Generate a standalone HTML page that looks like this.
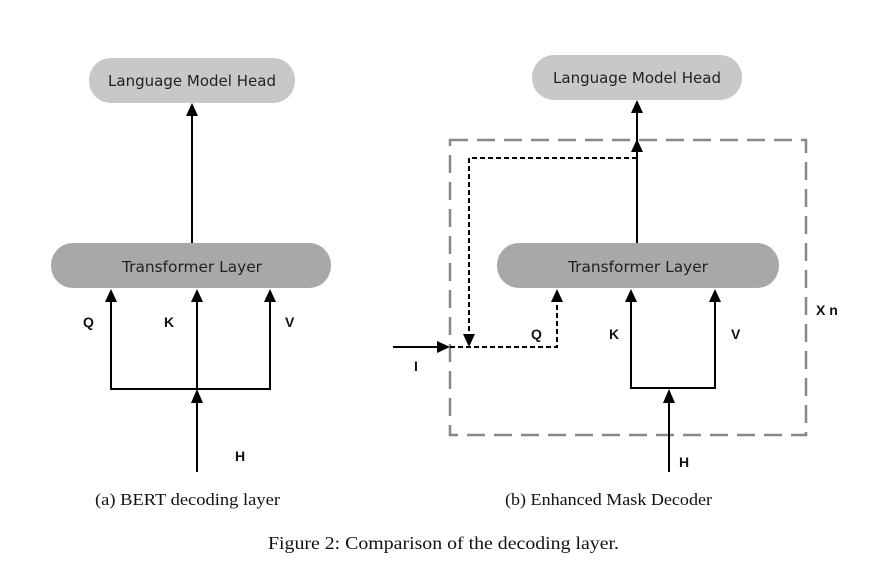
<!DOCTYPE html>
<html><head><meta charset="utf-8"><style>
html,body{margin:0;padding:0;background:#fff;}
svg{display:block;}
.lbl{font-family:"DejaVu Sans","Liberation Sans",sans-serif;font-size:15px;fill:#222;}
.b{font-family:"Liberation Sans",sans-serif;font-weight:bold;font-size:14px;fill:#111;}
.cap{font-family:"Liberation Serif",serif;fill:#111;}
</style></head><body>
<svg width="884" height="565" viewBox="0 0 884 565" xmlns="http://www.w3.org/2000/svg">
<!-- Left -->
<rect x="89" y="58" width="206" height="45" rx="22" fill="#c8c8c8"/>
<text class="lbl" x="108" y="86" textLength="168" lengthAdjust="spacingAndGlyphs">Language Model Head</text>
<rect x="51" y="243" width="280" height="45" rx="22" fill="#a8a8a8"/>
<text class="lbl" x="122" y="272" textLength="140" lengthAdjust="spacingAndGlyphs">Transformer Layer</text>
<g stroke="#000" stroke-width="2" fill="none">
<line x1="192" y1="243" x2="192" y2="114"/>
<polyline points="111,300 111,389 270,389 270,300"/>
<line x1="197" y1="300" x2="197" y2="389"/>
<line x1="197" y1="472" x2="197" y2="402"/>
</g>
<g fill="#000">
<polygon points="192,103 186,116 198,116"/>
<polygon points="111,289 105,302 117,302"/>
<polygon points="197,289 191,302 203,302"/>
<polygon points="270,289 264,302 276,302"/>
<polygon points="197,389 191,403 203,403"/>
</g>
<text class="b" x="83" y="327">Q</text>
<text class="b" x="164" y="327">K</text>
<text class="b" x="285" y="327">V</text>
<text class="b" x="235" y="461">H</text>

<!-- Right -->
<rect x="450" y="140" width="356" height="295" fill="none" stroke="#888" stroke-width="2.5" stroke-dasharray="18,9"/>
<rect x="532" y="55" width="210" height="45" rx="22" fill="#c8c8c8"/>
<text class="lbl" x="553" y="83" textLength="168" lengthAdjust="spacingAndGlyphs">Language Model Head</text>
<rect x="497" y="243" width="282" height="45" rx="22" fill="#a8a8a8"/>
<text class="lbl" x="568" y="272" textLength="140" lengthAdjust="spacingAndGlyphs">Transformer Layer</text>
<g stroke="#000" stroke-width="2" fill="none">
<line x1="637" y1="243" x2="637" y2="112"/>
<polyline points="631,300 631,388 715,388 715,300"/>
<line x1="669" y1="472" x2="669" y2="402"/>
<line x1="393" y1="347" x2="438" y2="347"/>
</g>
<g stroke="#000" stroke-width="2" fill="none" stroke-dasharray="5,3">
<polyline points="637,158 469,158 469,334"/>
<polyline points="450,347 557,347 557,302"/>
</g>
<g fill="#000">
<polygon points="637,100 631,113 643,113"/>
<polygon points="637,139 631,152 643,152"/>
<polygon points="631,289 625,302 637,302"/>
<polygon points="715,289 709,302 721,302"/>
<polygon points="669,389 663,403 675,403"/>
<polygon points="557,289 551,302 563,302"/>
<polygon points="469,347 463,334 475,334"/>
<polygon points="450,347 437,341 437,353"/>
</g>
<text class="b" x="531" y="339">Q</text>
<text class="b" x="609" y="339">K</text>
<text class="b" x="731" y="339">V</text>
<text class="b" x="679" y="467">H</text>
<text class="b" x="414" y="371">I</text>
<text class="b" x="816" y="315">X n</text>

<text class="cap" x="95" y="505" font-size="16.5" textLength="185" lengthAdjust="spacingAndGlyphs">(a) BERT decoding layer</text>
<text class="cap" x="505" y="505" font-size="16.5" textLength="207" lengthAdjust="spacingAndGlyphs">(b) Enhanced Mask Decoder</text>
<text class="cap" x="268" y="549" font-size="18" textLength="351" lengthAdjust="spacingAndGlyphs">Figure 2: Comparison of the decoding layer.</text>
</svg>
</body></html>
